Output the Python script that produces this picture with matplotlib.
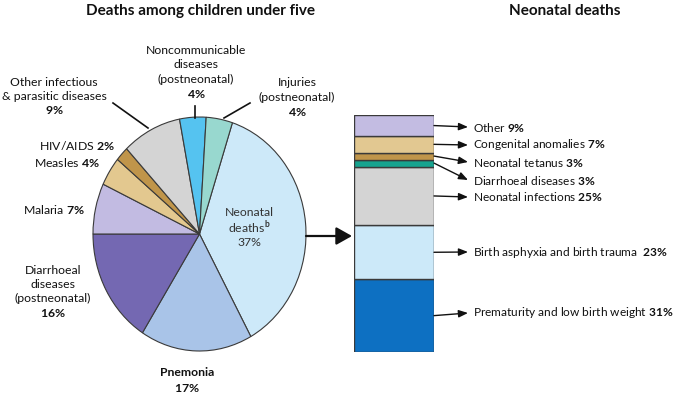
import matplotlib
matplotlib.use("Agg")
import matplotlib.pyplot as plt
from matplotlib.lines import Line2D
from matplotlib.patches import FancyArrowPatch

plt.rcParams['font.family'] = ['Lato', 'DejaVu Sans']
plt.rcParams['mathtext.fontset'] = 'custom'
plt.rcParams['mathtext.rm'] = 'Lato'
plt.rcParams['mathtext.bf'] = 'Lato:bold'

W, H = 679, 396

# ---- data ----
pie_labels = ["Neonatal deaths", "Pnemonia", "Diarrhoeal diseases (postneonatal)", "Malaria",
              "Measles", "HIV/AIDS", "Other infectious & parasitic diseases",
              "Noncommunicable diseases (postneonatal)", "Injuries (postneonatal)"]
pie_values = [37, 17, 16, 7, 4, 2, 9, 4, 4]
pie_colors = ["#cde9f9", "#a9c4e8", "#7468b2", "#c2bbe2", "#e3c88f", "#c0954a",
              "#d4d4d4", "#55c3f0", "#98d8cf"]

bar_labels = ["Prematurity and low birth weight", "Birth asphyxia and birth trauma",
              "Neonatal infections", "Diarrhoeal diseases", "Neonatal tetanus",
              "Congenital anomalies", "Other"]
bar_values = [31, 23, 25, 3, 3, 7, 9]
bar_colors = ["#0d70c2", "#cce9f9", "#d4d4d4", "#16a38f", "#c0954a", "#e2c891", "#c3bce2"]

fig = plt.figure(figsize=(W / 100, H / 100), dpi=100)


def fx(x):
    return x / W


def fy(y):
    return 1 - y / H


def pct(v):
    return r"$\mathbf{" + str(v) + r"\%}$"


edge = "#3a3a3a"

# ---- pie ----
pl, pr, pt, pb = 93, 306, 117, 351
axp = fig.add_axes([fx(pl), fy(pb), (pr - pl) / W, (pb - pt) / H])
axp.pie(pie_values, colors=pie_colors, startangle=72, counterclock=False,
        wedgeprops=dict(edgecolor=edge, linewidth=0.8))
axp.set_aspect('auto')
axp.set_xlim(-1, 1)
axp.set_ylim(-1, 1)
axp.axis('off')

fs = 8.8
tb = dict(ha='center', va='center', fontsize=fs, color='#111111', transform=fig.transFigure,
          linespacing=1.05)


def ftext(x, y, s, **kw):
    d = dict(tb)
    d.update(kw)
    fig.text(fx(x), fy(y), s, **d)


def fline(x0, y0, x1, y1, lw=1.2):
    fig.add_artist(Line2D([fx(x0), fx(x1)], [fy(y0), fy(y1)], color='#111111', lw=lw,
                          transform=fig.transFigure))


ftext(200, 11, "Deaths among children under five", fontsize=11, fontweight='bold')
ftext(565, 11, "Neonatal deaths", fontsize=11, fontweight='bold')

ftext(196, 50, "Noncommunicable")
ftext(196, 64.5, "diseases")
ftext(196, 79, "(postneonatal)")
ftext(196, 93.5, pct(pie_values[7]))
fline(195, 106, 195, 118)

ftext(297, 82, "Injuries")
ftext(297, 97, "(postneonatal)")
ftext(297, 112, pct(pie_values[8]))
fline(250, 103, 224, 118)

ftext(54, 82, "Other infectious")
ftext(54, 96.5, "& parasitic diseases")
ftext(54, 110.5, pct(pie_values[6]))
fline(113, 103, 148, 128)

ftext(115, 145, "HIV/AIDS " + pct(pie_values[5]), ha='right')
ftext(100, 163, "Measles " + pct(pie_values[4]), ha='right')
ftext(85, 209, "Malaria " + pct(pie_values[3]), ha='right')

ftext(53, 270, "Diarrhoeal")
ftext(53, 284, "diseases")
ftext(53, 298, "(postneonatal)")
ftext(53, 313, pct(pie_values[2]))

ftext(187, 373, "Pnemonia", fontweight='bold')
ftext(187, 388, pct(pie_values[1]))

ftext(249, 213, "Neonatal", color='#333333')
ftext(249, 228, r"deaths$^{\mathbf{b}}$", color='#333333')
ftext(249, 243, f"{pie_values[0]}%", color='#333333')

# arrow from pie to bar
fig.add_artist(FancyArrowPatch((fx(306), fy(236)), (fx(352), fy(236)),
                               transform=fig.transFigure, arrowstyle='-|>,head_length=0.8,head_width=0.45',
                               mutation_scale=12, color='#111111', lw=1.6, shrinkA=0, shrinkB=0))

# ---- stacked bar ----
bl, br, bt, bbm = 354, 434, 115, 352
axb = fig.add_axes([fx(bl), fy(bbm), (br - bl) / W, (bbm - bt) / H])
total = sum(bar_values)
bottom = 0
mids = []
for v, c in zip(bar_values, bar_colors):
    axb.bar(0.5, v, width=1, bottom=bottom, color=c, edgecolor=edge, linewidth=1.0)
    mids.append(bottom + v / 2)
    bottom += v
axb.set_xlim(0, 1)
axb.set_ylim(0, total)
axb.axis('off')

text_y = [313, 252, 197, 180, 162, 145, 127]
for lab, v, m, ty in zip(bar_labels, bar_values, mids, text_y):
    start = fig.transFigure.inverted().transform(axb.transData.transform((1, m)))
    end = (fx(468), fy(ty))
    fig.add_artist(FancyArrowPatch(tuple(start), end, transform=fig.transFigure,
                                   arrowstyle='-|>,head_length=0.55,head_width=0.22',
                                   mutation_scale=10, color='#111111', lw=1.0,
                                   shrinkA=0, shrinkB=0))
    gap = "  " if lab.startswith("Birth") else " "
    fig.text(fx(473), fy(ty), lab + gap + pct(v), ha='left', va='center',
             fontsize=8.6, color='#111111')

fig.savefig("out.png", dpi=100)
